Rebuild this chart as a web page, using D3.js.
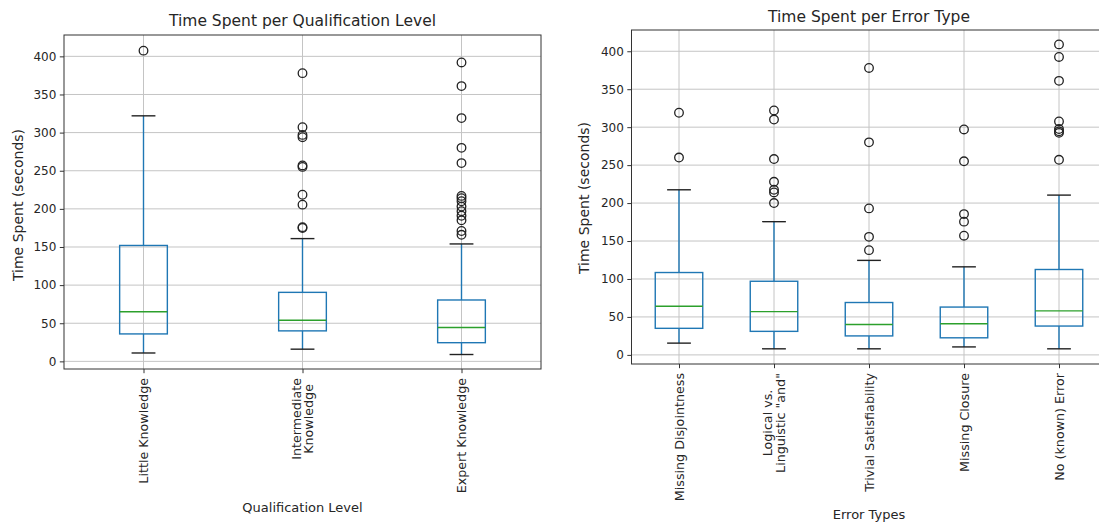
<!DOCTYPE html>
<html>
<head>
<meta charset="utf-8">
<script src="https://cdn.jsdelivr.net/npm/d3@7"></script>
<style>
  html, body { margin: 0; padding: 0; background: #ffffff; }
  svg { display: block; }
  text { font-family: "DejaVu Sans", sans-serif; fill: #262626; }
</style>
</head>
<body>
<svg id="chart" width="1099" height="522"></svg>
<script>
// ---------------- DATA ----------------
const yTickValues = [0, 50, 100, 150, 200, 250, 300, 350, 400];

// Chart 1: Time Spent per Qualification Level
const qualCategories = ["Little Knowledge", "Intermediate\nKnowledge", "Expert Knowledge"];
const qualWhiskerLow  = [11, 16, 9];
const qualQ1          = [36, 40, 24.5];
const qualMedian      = [65, 54, 44.5];
const qualQ3          = [152, 90.5, 80.5];
const qualWhiskerHigh = [322, 161, 154];
const qualOutliers = [
  [407.5],
  [378, 307, 297, 294, 257, 255, 218.5, 205.5, 176, 175],
  [392, 361, 319, 280, 260, 217, 214, 210, 203, 197, 191, 185, 171, 166]
];

// Chart 2: Time Spent per Error Type
const errCategories = ["Missing Disjointness", "Logical vs.\nLinguistic \"and\"", "Trivial Satisfiability", "Missing Closure", "No (known) Error"];
const errWhiskerLow  = [15.5, 8, 8, 10.5, 8];
const errQ1          = [35, 31, 25, 22.5, 38];
const errMedian      = [64, 57, 40, 41, 58];
const errQ3          = [108.5, 97, 69, 63, 112.5];
const errWhiskerHigh = [217.5, 175.5, 124.5, 116, 210.5];
const errOutliers = [
  [319, 260],
  [322, 310, 258, 228, 217.5, 214, 200],
  [378, 280, 193, 155.5, 138],
  [297, 255, 185.5, 175.5, 157],
  [409, 392.5, 361, 307.5, 297.5, 294.5, 292.5, 257]
];

// ---------------- DRAWING ----------------
const svg = d3.select("#chart");
const BLUE = "#1f77b4", GREEN = "#2ca02c";

function drawBoxChart(cfg) {
  const n = cfg.categories.length;
  const g = svg.append("g");
  const x = d3.scaleLinear().domain([0.5, n + 0.5]).range([cfg.x0, cfg.x1]);
  const y = d3.scaleLinear().domain(cfg.yDomain).range([cfg.y1, cfg.y0]);
  const pos = d3.range(1, n + 1);

  // grid
  g.append("g").selectAll("line").data(cfg.yTicks).join("line")
    .attr("x1", cfg.x0).attr("x2", cfg.x1)
    .attr("y1", d => y(d)).attr("y2", d => y(d))
    .attr("stroke", "#c4c4c4").attr("stroke-width", 1);
  g.append("g").selectAll("line").data(pos).join("line")
    .attr("x1", d => x(d)).attr("x2", d => x(d))
    .attr("y1", cfg.y0).attr("y2", cfg.y1)
    .attr("stroke", "#c4c4c4").attr("stroke-width", 1);

  const stats = pos.map((p, i) => ({
    p, lo: cfg.wLow[i], q1: cfg.q1[i], med: cfg.med[i], q3: cfg.q3[i], hi: cfg.wHigh[i], out: cfg.outliers[i]
  }));
  const bw = cfg.boxWidth, cw = cfg.boxWidth / 2;

  const boxes = g.append("g").selectAll("g").data(stats).join("g");
  // whiskers
  boxes.append("line").attr("x1", d => x(d.p)).attr("x2", d => x(d.p))
    .attr("y1", d => y(d.q3)).attr("y2", d => y(d.hi))
    .attr("stroke", BLUE).attr("stroke-width", 1.4);
  boxes.append("line").attr("x1", d => x(d.p)).attr("x2", d => x(d.p))
    .attr("y1", d => y(d.q1)).attr("y2", d => y(d.lo))
    .attr("stroke", BLUE).attr("stroke-width", 1.4);
  // caps
  boxes.append("line").attr("x1", d => x(d.p - cw / 2)).attr("x2", d => x(d.p + cw / 2))
    .attr("y1", d => y(d.hi)).attr("y2", d => y(d.hi))
    .attr("stroke", "#222").attr("stroke-width", 1.4);
  boxes.append("line").attr("x1", d => x(d.p - cw / 2)).attr("x2", d => x(d.p + cw / 2))
    .attr("y1", d => y(d.lo)).attr("y2", d => y(d.lo))
    .attr("stroke", "#222").attr("stroke-width", 1.4);
  // box
  boxes.append("rect")
    .attr("x", d => x(d.p - bw / 2)).attr("width", d => x(d.p + bw / 2) - x(d.p - bw / 2))
    .attr("y", d => y(d.q3)).attr("height", d => y(d.q1) - y(d.q3))
    .attr("fill", "none").attr("stroke", BLUE).attr("stroke-width", 1.4);
  // median
  boxes.append("line").attr("x1", d => x(d.p - bw / 2)).attr("x2", d => x(d.p + bw / 2))
    .attr("y1", d => y(d.med)).attr("y2", d => y(d.med))
    .attr("stroke", GREEN).attr("stroke-width", 1.4);
  // fliers
  boxes.selectAll("circle").data(d => d.out.map(v => ({ p: d.p, v }))).join("circle")
    .attr("cx", d => x(d.p)).attr("cy", d => y(d.v)).attr("r", 4.3)
    .attr("fill", "none").attr("stroke", "#222").attr("stroke-width", 1.3);

  // frame
  g.append("rect").attr("x", cfg.x0).attr("y", cfg.y0)
    .attr("width", cfg.x1 - cfg.x0).attr("height", cfg.y1 - cfg.y0)
    .attr("fill", "none").attr("stroke", "#333").attr("stroke-width", 1);

  // y axis
  const ya = g.append("g").attr("transform", `translate(${cfg.x0},0)`)
    .call(d3.axisLeft(y).tickValues(cfg.yTicks).tickSize(4.2).tickPadding(3.5));
  ya.select(".domain").remove();
  ya.selectAll("line").attr("stroke", "#333");
  ya.selectAll("text").style("font-size", "12px").style("fill", "#262626").attr("font-family", null);

  // x axis ticks
  const xa = g.append("g").attr("transform", `translate(0,${cfg.y1})`)
    .call(d3.axisBottom(x).tickValues(pos).tickSize(4.2).tickFormat(""));
  xa.select(".domain").remove();
  xa.selectAll("line").attr("stroke", "#333");

  // x tick labels, rotated, multi-line centered
  const fs = "12.7px";
  const lineH = 12.5;
  const top = cfg.y1 + 9;
  pos.forEach((p, i) => {
    const lines = cfg.categories[i].split("\n");
    const tmp = g.append("g");
    const ts = lines.map(l => tmp.append("text").style("font-size", fs).text(l));
    const maxW = d3.max(ts, t => t.node().getComputedTextLength());
    tmp.remove();
    const cy = top + maxW / 2;
    lines.forEach((l, j) => {
      const cx = x(p) + (j - (lines.length - 1) / 2) * lineH;
      g.append("text")
        .attr("transform", `translate(${cx},${cy}) rotate(-90)`)
        .attr("text-anchor", "middle")
        .attr("dominant-baseline", "central")
        .style("font-size", fs)
        .text(l);
    });
  });

  // titles
  g.append("text").attr("x", (cfg.x0 + cfg.x1) / 2).attr("y", cfg.titleY)
    .attr("text-anchor", "middle").style("font-size", "15.5px").text(cfg.title);
  g.append("text").attr("x", (cfg.x0 + cfg.x1) / 2).attr("y", cfg.xLabelY)
    .attr("text-anchor", "middle").style("font-size", "13px").text(cfg.xLabel);
  g.append("text")
    .attr("transform", `translate(${cfg.yLabelX},${cfg.yLabelCY}) rotate(-90)`)
    .attr("text-anchor", "middle").style("font-size", "14px").text(cfg.yLabel);
}

drawBoxChart({
  categories: qualCategories, wLow: qualWhiskerLow, q1: qualQ1, med: qualMedian, q3: qualQ3,
  wHigh: qualWhiskerHigh, outliers: qualOutliers, yTicks: yTickValues,
  x0: 64, x1: 541, y0: 35, y1: 369, yDomain: [-10, 428], boxWidth: 0.3,
  title: "Time Spent per Qualification Level", titleY: 26,
  xLabel: "Qualification Level", xLabelY: 512,
  yLabel: "Time Spent (seconds)", yLabelX: 23, yLabelCY: 205
});

drawBoxChart({
  categories: errCategories, wLow: errWhiskerLow, q1: errQ1, med: errMedian, q3: errQ3,
  wHigh: errWhiskerHigh, outliers: errOutliers, yTicks: yTickValues,
  x0: 631.5, x1: 1106.5, y0: 30, y1: 364, yDomain: [-12, 428], boxWidth: 0.5,
  title: "Time Spent per Error Type", titleY: 22,
  xLabel: "Error Types", xLabelY: 519,
  yLabel: "Time Spent (seconds)", yLabelX: 589, yLabelCY: 198
});
</script>
</body>
</html>
